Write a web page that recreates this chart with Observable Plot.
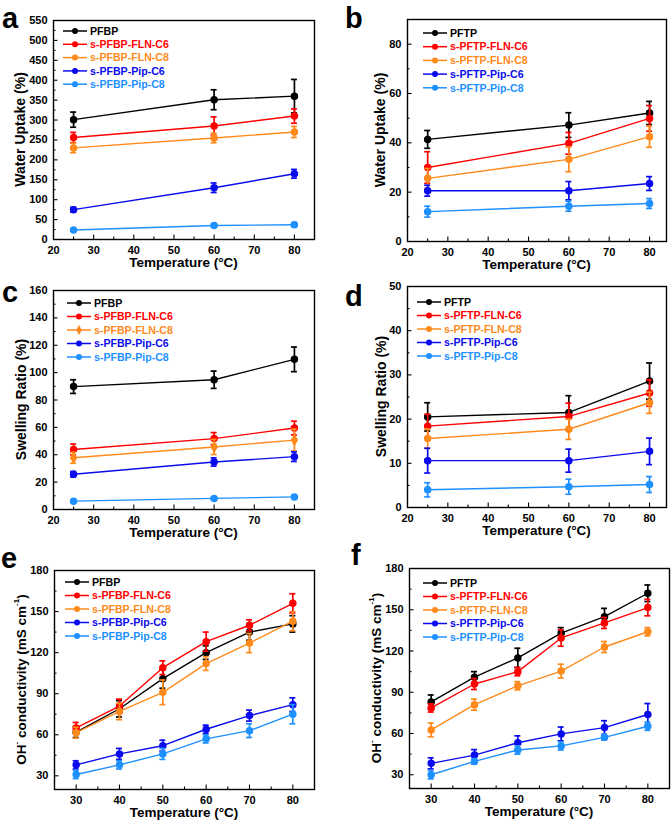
<!DOCTYPE html>
<html>
<head>
<meta charset="utf-8">
<script src="https://cdn.jsdelivr.net/npm/d3@7"></script>
<script src="https://cdn.jsdelivr.net/npm/@observablehq/plot@0.6"></script>
<style>
  body { margin: 0; background: #fff; }
  #root { position: relative; width: 672px; height: 828px; overflow: hidden; background: #fff;
          font-family: "Liberation Sans", Arial, sans-serif; }
  .panel { position: absolute; }
</style>
</head>
<body>
<div id="root"></div>
<script>
// ---------------- data ----------------
const tempWS = [25, 60, 80];
const tempCond = [30, 40, 50, 60, 70, 80];

const namesPFBP = ["PFBP", "s-PFBP-FLN-C6", "s-PFBP-FLN-C8", "s-PFBP-Pip-C6", "s-PFBP-Pip-C8"];
const namesPFTP = ["PFTP", "s-PFTP-FLN-C6", "s-PFTP-FLN-C8", "s-PFTP-Pip-C6", "s-PFTP-Pip-C8"];
const seriesColors = ["#000000", "#ff0000", "#ff8a1c", "#0a0aee", "#1e90ff"];

// (a) water uptake, PFBP series
const waterPFBP = [[301, 351, 360], [256, 285, 310], [230, 255, 270], [75, 130, 165], [24, 35, 37]];
const waterPFBPErr = [[19, 25, 42], [13, 23, 18], [12, 12, 14], [6, 12, 11], [3, 3, 5]];
// (b) water uptake, PFTP series
const waterPFTP = [[41.4, 47.2, 52.1], [30, 39.8, 49.9], [25.6, 33.3, 42.5], [20.6, 20.6, 23.5], [12.1, 14.3, 15.4]];
const waterPFTPErr = [[3.6, 5, 4.7], [6.4, 4.4, 5.2], [4, 5, 4.3], [2.2, 3.7, 2.8], [2.2, 2, 2]];
// (c) swelling ratio, PFBP series
const swellPFBP = [[89.8, 94.8, 109.7], [43.8, 51.8, 59.5], [37.8, 45.7, 50.7], [25.8, 34.7, 38.6], [6.1, 8.1, 9.2]];
const swellPFBPErr = [[5, 6.3, 9], [4, 4.4, 5], [4, 5.5, 8], [2, 3, 3.5], [0.6, 0.8, 1]];
// (d) swelling ratio, PFTP series
const swellPFTP = [[20.5, 21.5, 28.6], [18.4, 20.6, 25.9], [15.6, 17.7, 23.7], [10.6, 10.6, 12.7], [4, 4.7, 5.2]];
const swellPFTPErr = [[3.2, 3.8, 4.1], [2.7, 3, 3], [2.2, 2.3, 2.4], [2.8, 2.6, 3], [1.6, 1.7, 1.8]];
// (e) OH- conductivity, PFBP series
const condPFBP = [
  [62, 79, 101, 120, 135, 141],
  [65, 81, 109, 128, 140, 156],
  [61.5, 77, 91, 112, 127, 143],
  [38, 46, 52, 64, 74, 82],
  [31, 38, 46, 57, 63, 75]
];
const condPFBPErr = [[4, 6, 7, 5, 6, 6], [4, 5, 5, 7, 4, 7], [4, 6, 9, 5, 7, 7], [3, 4, 4, 3, 4, 5], [3, 3, 4, 3, 5, 7]];
// (f) OH- conductivity, PFTP series
const condPFTP = [
  [83, 101, 115, 133, 145, 162],
  [78.6, 96, 105, 129.5, 140.4, 151.6],
  [62.6, 81, 94.7, 105.4, 122.9, 134],
  [38.3, 44.3, 53.3, 59.7, 64.3, 73.8],
  [30, 39.7, 48, 51, 57.2, 65.3]
];
const condPFTPErr = [[5, 4, 7, 4, 6, 6], [3, 4, 3, 6, 4, 6], [5, 4, 3, 5, 4, 3], [4, 4, 5, 5, 5, 8], [3, 2, 3, 3, 2, 3]];

// tick labels
const ticksTempWS = [20, 30, 40, 50, 60, 70, 80];
const ticksTempCond = [30, 40, 50, 60, 70, 80];
const ticksWaterPFBP = [0, 50, 100, 150, 200, 250, 300, 350, 400, 450, 500, 550];
const ticksWaterPFTP = [0, 20, 40, 60, 80];
const ticksSwellPFBP = [0, 20, 40, 60, 80, 100, 120, 140, 160];
const ticksSwellPFTP = [0, 10, 20, 30, 40, 50];
const ticksCond = [30, 60, 90, 120, 150, 180];

// ---------------- panels ----------------
const FONT = "'Liberation Sans', Arial, Helvetica, sans-serif";
const titleTemp = "Temperature (°C)";

const panels = [
  { letter: "a", left: 0, top: 0, height: 270, mL: 53, mR: 22, mT: 20, mB: 31,
    xDomain: [20, 85], yDomain: [0, 550], xTicks: ticksTempWS, yTicks: ticksWaterPFBP,
    xs: tempWS, names: namesPFBP, values: waterPFBP, errors: waterPFBPErr,
    yTitle: ["Water Uptake (%)"], letterPos: [2, 28], yTitleX: 20, legend: [10, 11, 13.3] },
  { letter: "b", left: 336, top: 0, height: 270, mL: 71, mR: 6, mT: 19, mB: 29,
    xDomain: [20, 84.2], yDomain: [0, 90], xTicks: ticksTempWS, yTicks: ticksWaterPFTP,
    xs: tempWS, names: namesPFTP, values: waterPFTP, errors: waterPFTPErr,
    yTitle: ["Water Uptake (%)"], letterPos: [9, 28], yTitleX: 44, legend: [16, 14, 13.7] },
  { letter: "c", left: 0, top: 270, height: 270, mL: 53, mR: 22, mT: 20, mB: 31,
    xDomain: [20, 85], yDomain: [0, 160], xTicks: ticksTempWS, yTicks: ticksSwellPFBP,
    xs: tempWS, names: namesPFBP, values: swellPFBP, errors: swellPFBPErr,
    yTitle: ["Swelling Ratio (%)"], letterPos: [2, 32], yTitleX: 21, legend: [14, 13, 13.5],
    symbols: ["circle", "circle", "diamond", "circle", "circle"] },
  { letter: "d", left: 336, top: 270, height: 270, mL: 71, mR: 6, mT: 16, mB: 33,
    xDomain: [20, 84.2], yDomain: [0, 50], xTicks: ticksTempWS, yTicks: ticksSwellPFTP,
    xs: tempWS, names: namesPFTP, values: swellPFTP, errors: swellPFTPErr,
    yTitle: ["Swelling Ratio (%)"], letterPos: [9, 36], yTitleX: 45, legend: [10, 16, 13.5] },
  { letter: "e", left: 0, top: 540, height: 288, mL: 54, mR: 22, mT: 30, mB: 39,
    xDomain: [25, 85], yDomain: [20, 180], xTicks: ticksTempCond, yTicks: ticksCond,
    xs: tempCond, names: namesPFBP, values: condPFBP, errors: condPFBPErr,
    yTitle: "cond", letterPos: [1, 28], yTitleX: 21, legend: [11, 12, 13.5] },
  { letter: "f", left: 336, top: 540, height: 288, mL: 73, mR: 3, mT: 28, mB: 40,
    xDomain: [25, 85], yDomain: [20, 180], xTicks: ticksTempCond, yTicks: ticksCond,
    xs: tempCond, names: namesPFTP, values: condPFTP, errors: condPFTPErr,
    yTitle: "cond", letterPos: [15, 25], yTitleX: 40, legend: [14, 15, 13.5] }
];

function minorTicks(major, domain) {
  const step = major[1] - major[0];
  const out = [];
  for (let i = -1; i < major.length; i++) {
    const m = major[0] + step * i + step / 2;
    if (m > domain[0] + 1e-9 && m < domain[1] - 1e-9) out.push(m);
  }
  return out;
}

const root = document.getElementById("root");

for (const p of panels) {
  const W = 336;
  const plotW = W - p.mL - p.mR;
  const plotH = p.height - p.mT - p.mB;
  const xPerPx = (p.xDomain[1] - p.xDomain[0]) / plotW;
  const yPerPx = (p.yDomain[1] - p.yDomain[0]) / plotH;
  const capHalf = 3 * xPerPx;
  const majorLen = 4.5, minorLen = 2.5;

  const rows = p.names.flatMap((n, i) => p.xs.map((x, j) => ({
    series: n, idx: i, x, y: p.values[i][j], e: p.errors[i][j]
  })));
  const symbols = p.symbols || p.names.map(() => "circle");

  const xMinor = minorTicks(p.xTicks, p.xDomain);
  const yMinor = minorTicks(p.yTicks, p.yDomain);

  const marks = [
    // inward ticks
    Plot.ruleY(p.yTicks.filter(t => t > p.yDomain[0] && t < p.yDomain[1]), { y: d => d, x1: p.xDomain[0], x2: p.xDomain[0] + majorLen * xPerPx, stroke: "#000", strokeWidth: 1.1 }),
    Plot.ruleY(yMinor, { y: d => d, x1: p.xDomain[0], x2: p.xDomain[0] + minorLen * xPerPx, stroke: "#000", strokeWidth: 1.1 }),
    Plot.ruleX(p.xTicks.filter(t => t > p.xDomain[0] && t < p.xDomain[1]), { x: d => d, y1: p.yDomain[0], y2: p.yDomain[0] + majorLen * yPerPx, stroke: "#000", strokeWidth: 1.1 }),
    Plot.ruleX(xMinor, { x: d => d, y1: p.yDomain[0], y2: p.yDomain[0] + minorLen * yPerPx, stroke: "#000", strokeWidth: 1.1 }),
    Plot.axisX(p.xTicks, { tickSize: 0, tickPadding: 7, label: null, fontSize: 11 }),
    Plot.axisY(p.yTicks, { tickSize: 0, tickPadding: 6, label: null, fontSize: 11 })
  ];

  p.names.forEach((n, i) => {
    const sub = rows.filter(r => r.idx === i);
    marks.push(
      Plot.line(sub, { x: "x", y: "y", stroke: "series", strokeWidth: 1.4 }),
      Plot.ruleX(sub, { x: "x", y1: d => d.y - d.e, y2: d => d.y + d.e, stroke: "series", strokeWidth: 1.7 }),
      Plot.ruleY(sub, { y: d => d.y + d.e, x1: d => d.x - capHalf, x2: d => d.x + capHalf, stroke: "series", strokeWidth: 1.7 }),
      Plot.ruleY(sub, { y: d => d.y - d.e, x1: d => d.x - capHalf, x2: d => d.x + capHalf, stroke: "series", strokeWidth: 1.7 }),
      Plot.dot(sub, { x: "x", y: "y", fill: "series", stroke: "series", r: 3, symbol: () => symbols[i] })
    );
  });
  marks.push(Plot.frame({ stroke: "#000", strokeWidth: 1.4 }));

  const svgEl = Plot.plot({
    width: W, height: p.height,
    marginLeft: p.mL, marginRight: p.mR, marginTop: p.mT, marginBottom: p.mB,
    x: { domain: p.xDomain },
    y: { domain: p.yDomain },
    color: { domain: p.names, range: seriesColors },
    symbol: { domain: ["circle", "diamond"], range: ["circle", "diamond"] },
    style: { fontFamily: FONT, fontSize: "11px", fontWeight: "bold", color: "#000", background: "transparent", overflow: "visible" },
    marks
  });

  const svg = d3.select(svgEl);

  // panel letter
  svg.append("text").attr("x", p.letterPos[0]).attr("y", p.letterPos[1])
    .attr("text-anchor", "start")
    .attr("font-size", 29).attr("font-weight", "bold").attr("font-family", FONT).attr("fill", "#000")
    .text(p.letter);

  // x title
  svg.append("text")
    .attr("x", p.mL + plotW / 2).attr("y", p.height - p.mB + 28)
    .attr("text-anchor", "middle").attr("font-size", 13.5).attr("font-weight", "bold").attr("font-family", FONT).attr("fill", "#000")
    .text(titleTemp);

  // y title
  const yt = svg.append("text")
    .attr("transform", `translate(${p.yTitleX},${p.mT + plotH / 2}) rotate(-90)`)
    .attr("text-anchor", "middle").attr("dominant-baseline", "central")
    .attr("font-size", p.yTitle === "cond" ? 13.5 : 14).attr("font-weight", "bold").attr("font-family", FONT).attr("fill", "#000");
  if (p.yTitle === "cond") {
    yt.append("tspan").text("OH");
    yt.append("tspan").attr("baseline-shift", "super").attr("font-size", 8).text("-");
    yt.append("tspan").text(" conductivity (mS cm");
    yt.append("tspan").attr("baseline-shift", "super").attr("font-size", 8).text("-1");
    yt.append("tspan").text(")");
  } else {
    yt.text(p.yTitle[0]);
  }

  // legend
  const [lx, ly, lstep] = p.legend;
  const lg = svg.append("g").attr("transform", `translate(${p.mL + lx},${p.mT + ly})`);
  p.names.forEach((n, i) => {
    const g = lg.append("g").attr("transform", `translate(0,${i * lstep})`);
    g.append("line").attr("x1", 0).attr("x2", 24).attr("y1", 0).attr("y2", 0)
      .attr("stroke", seriesColors[i]).attr("stroke-width", 1.5);
    const sym = symbols[i] === "diamond" ? d3.symbolDiamond : d3.symbolCircle;
    g.append("path").attr("transform", "translate(12,0)")
      .attr("d", d3.symbol(sym, Math.PI * 3 * 3)())
      .attr("fill", seriesColors[i]);
    g.append("text").attr("x", 27).attr("y", 0).attr("dy", "0.35em")
      .attr("text-anchor", "start")
      .attr("font-size", 10.6).attr("font-weight", "bold").attr("font-family", FONT)
      .attr("fill", seriesColors[i]).text(n);
  });

  const div = document.createElement("div");
  div.className = "panel";
  div.style.left = p.left + "px";
  div.style.top = p.top + "px";
  div.appendChild(svgEl);
  root.appendChild(div);
}
</script>
</body>
</html>
